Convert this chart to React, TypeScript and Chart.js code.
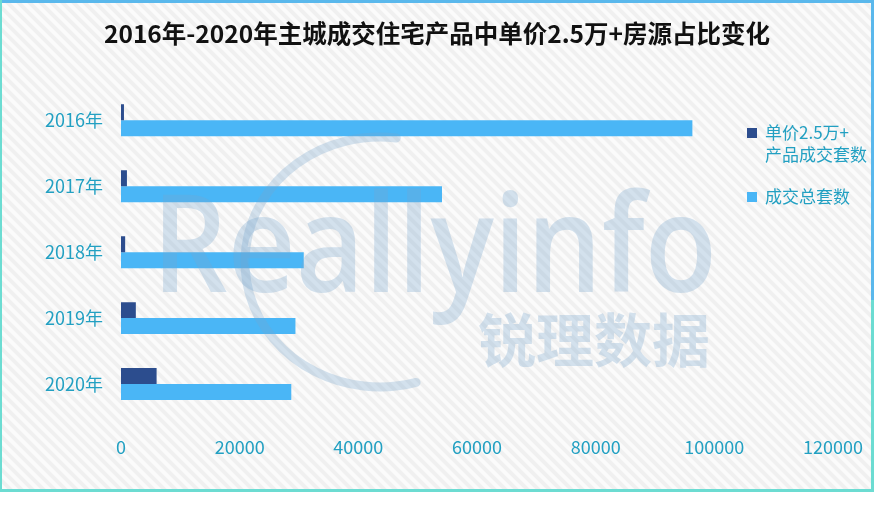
import React, { useEffect, useRef } from "react";
import { Chart, registerables } from "chart.js";

Chart.register(...registerables);

const categories = ["2016年", "2017年", "2018年", "2019年", "2020年"];
const premiumDeals = [500, 1000, 700, 2500, 6000];
const totalDeals = [96300, 54100, 30800, 29400, 28700];
const seriesNames = ["单价2.5万+产品成交套数", "成交总套数"];
const legendLines = [["单价2.5万+", "产品成交套数"], ["成交总套数"]];
const seriesColors = ["#2c4d8e", "#4ab6f6"];
const xTicks = [0, 20000, 40000, 60000, 80000, 100000, 120000];
const titleText = "2016年-2020年主城成交住宅产品中单价2.5万+房源占比变化";

const FONT = "'Noto Sans CJK SC', 'Noto Sans', sans-serif";
const TEXT_BLUE = "#22a0c2";

const backgroundPlugin = {
  id: "bgStripes",
  beforeDraw(chart: any) {
    const { ctx, width, height } = chart;
    ctx.save();
    ctx.fillStyle = "#ffffff";
    ctx.fillRect(0, 0, width, height);
    ctx.beginPath();
    ctx.rect(0, 0, width, 491);
    ctx.clip();
    ctx.fillStyle = "#fbfbfb";
    ctx.fillRect(0, 0, width, 491);
    ctx.strokeStyle = "rgba(0,0,0,0.045)";
    ctx.lineWidth = 4;
    for (let s = -600; s < width + 600; s += 11) {
      ctx.beginPath();
      ctx.moveTo(s, 0);
      ctx.lineTo(s + 600, 600);
      ctx.stroke();
    }
    ctx.restore();
  },
};

const overlayPlugin = {
  id: "overlay",
  afterDraw(chart: any) {
    const { ctx } = chart;
    ctx.save();
    // watermark
    ctx.globalAlpha = 0.3;
    ctx.fillStyle = "rgb(120,165,205)";
    ctx.strokeStyle = "rgb(120,165,205)";
    ctx.lineWidth = 9;
    ctx.lineCap = "round";
    ctx.beginPath();
    ctx.ellipse(380, 262, 135, 125, 0, -1.45, 1.3, true);
    ctx.stroke();
    ctx.font = `600 136px 'Open Sans', 'Liberation Sans', sans-serif`;
    ctx.textBaseline = "alphabetic";
    ctx.textAlign = "left";
    ctx.fillText("Reallyinfo", 152, 292, 565);
    ctx.font = `bold 58px ${FONT}`;
    ctx.textBaseline = "middle";
    ctx.fillText("锐理数据", 478, 340, 240);
    ctx.globalAlpha = 1;

    // legend
    ctx.textAlign = "left";
    ctx.textBaseline = "middle";
    ctx.font = `17px ${FONT}`;
    const starts = [133, 197];
    chart.data.datasets.forEach((ds: any, i: number) => {
      const y0 = starts[i];
      ctx.fillStyle = ds.backgroundColor;
      ctx.fillRect(747, y0 - 5, 10, 10);
      ctx.fillStyle = TEXT_BLUE;
      legendLines[i].forEach((line, j) => {
        ctx.fillText(line, 765, y0 + j * 22);
      });
    });

    // frame
    ctx.fillStyle = "#5ab8ec";
    ctx.fillRect(0, 0, 874, 3);
    ctx.fillRect(871, 0, 3, 300);
    ctx.fillStyle = "#6cdcd2";
    ctx.fillRect(871, 300, 3, 192);
    ctx.fillRect(0, 0, 2, 492);
    ctx.fillRect(0, 489, 874, 3);
    ctx.restore();
  },
};

export default function App() {
  const ref = useRef<HTMLCanvasElement | null>(null);

  useEffect(() => {
    if (!ref.current) return;
    const chart = new Chart(ref.current, {
      type: "bar",
      data: {
        labels: categories,
        datasets: [
          {
            label: seriesNames[0],
            data: premiumDeals,
            backgroundColor: seriesColors[0],
            barPercentage: 1,
            categoryPercentage: 0.485,
          },
          {
            label: seriesNames[1],
            data: totalDeals,
            backgroundColor: seriesColors[1],
            barPercentage: 1,
            categoryPercentage: 0.485,
          },
        ],
      },
      options: {
        indexAxis: "y",
        animation: false,
        responsive: true,
        maintainAspectRatio: false,
        layout: { padding: { left: 41, right: 41, top: 0, bottom: 0 } },
        plugins: {
          legend: { display: false },
          tooltip: { enabled: false },
          title: {
            display: true,
            text: titleText,
            color: "#111111",
            font: { family: FONT, size: 24.5, weight: "bold" },
            padding: { top: 19, bottom: 39 },
          },
        },
        scales: {
          x: {
            min: 0,
            max: 120000,
            afterBuildTicks(scale: any) {
              scale.ticks = xTicks.map((v) => ({ value: v }));
            },
            afterFit(scale: any) {
              scale.height = 88;
            },
            grid: { display: false },
            border: { display: false },
            ticks: {
              color: TEXT_BLUE,
              font: { family: FONT, size: 18 },
              padding: 11,
              maxRotation: 0,
              autoSkip: false,
              callback: (v: any) => String(v),
            },
          },
          y: {
            afterFit(scale: any) {
              scale.width = 80;
            },
            grid: { display: false },
            border: { display: false },
            ticks: {
              color: TEXT_BLUE,
              font: { family: FONT, size: 18 },
              padding: 10,
            },
          },
        },
      },
      plugins: [backgroundPlugin, overlayPlugin],
    });
    return () => chart.destroy();
  }, []);

  return (
    <div style={{ position: "fixed", left: 0, top: 0, width: 874, height: 505 }}>
      <canvas ref={ref} />
    </div>
  );
}
